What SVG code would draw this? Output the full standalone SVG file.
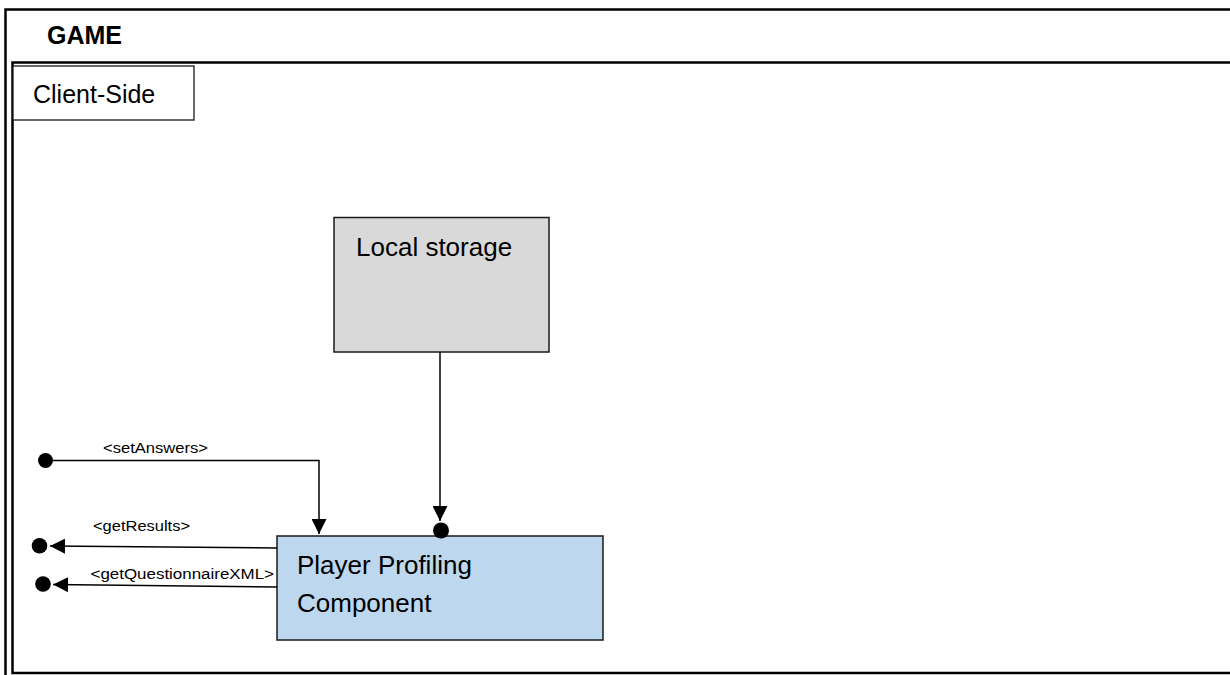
<svg xmlns="http://www.w3.org/2000/svg" width="1230" height="675" viewBox="0 0 1230 675">
  <defs>
    <style>
      .frame { fill: none; stroke: #000; stroke-width: 2.5; }
      .box { stroke: #1a1a1a; stroke-width: 1.5; }
      .title { font-family: "Liberation Sans", Arial, sans-serif; font-size: 26px; fill: #000; }
      .label { font-family: "Liberation Sans", Arial, sans-serif; font-size: 14px; fill: #000; }
      .wire { fill: none; stroke: #000; stroke-width: 1.5; }
      .dot { fill: #000; }
    </style>
    <marker id="arrow" viewBox="0 0 10 10" refX="10" refY="5" markerWidth="15" markerHeight="15" markerUnits="userSpaceOnUse" orient="auto">
      <path d="M0,0 L10,5 L0,10 Z" fill="#000"/>
    </marker>
  </defs>

  <rect width="1230" height="675" fill="#fff"/>

  <!-- GAME frame -->
  <g id="game">
    <path class="frame" d="M5.5,675 V9.5 H1230"/>
    <text x="47" y="44" font-family="Liberation Sans, Arial, sans-serif" font-size="25" font-weight="bold">GAME</text>
  </g>

  <!-- Client-side frame -->
  <g id="client-side">
    <path class="frame" d="M1230,62.5 H12.5 V673 H1230"/>
    <rect x="13" y="66" width="181" height="54" fill="#fff" stroke="#1a1a1a" stroke-width="1.3"/>
    <text x="33" y="103" font-family="Liberation Sans, Arial, sans-serif" font-size="25">Client-Side</text>
  </g>

  <!-- Local storage -->
  <g id="local-storage">
    <rect class="box" x="334" y="217.5" width="215" height="134.5" fill="#d9d9d9"/>
    <text class="title" x="356" y="256">Local storage</text>
  </g>

  <!-- Player Profiling Component -->
  <g id="player-profiling">
    <rect class="box" x="277" y="536" width="326" height="104" fill="#bdd7ee"/>
    <text class="title" x="297" y="574">Player Profiling</text>
    <text class="title" x="297" y="612">Component</text>
  </g>

  <!-- Connectors -->
  <g id="connectors">
    <!-- setAnswers: provided interface into the component -->
    <circle class="dot" cx="45.5" cy="460.5" r="7.5"/>
    <path class="wire" d="M45.5,460.5 H319 V534" marker-end="url(#arrow)"/>
    <text class="label" x="103" y="453" textLength="105" lengthAdjust="spacingAndGlyphs">&lt;setAnswers&gt;</text>

    <!-- Local storage to component -->
    <path class="wire" d="M440,352 V521" marker-end="url(#arrow)"/>
    <circle class="dot" cx="441" cy="530.5" r="8"/>

    <!-- getResults -->
    <path class="wire" d="M277,548 L50,546" marker-end="url(#arrow)"/>
    <circle class="dot" cx="39.5" cy="545.8" r="7.8"/>
    <text class="label" x="93" y="531" textLength="97" lengthAdjust="spacingAndGlyphs">&lt;getResults&gt;</text>

    <!-- getQuestionnaireXML -->
    <path class="wire" d="M277,587 L53,584.5" marker-end="url(#arrow)"/>
    <circle class="dot" cx="43" cy="584" r="7.8"/>
    <text class="label" x="90.5" y="579" textLength="183.5" lengthAdjust="spacingAndGlyphs">&lt;getQuestionnaireXML&gt;</text>
  </g>
</svg>
